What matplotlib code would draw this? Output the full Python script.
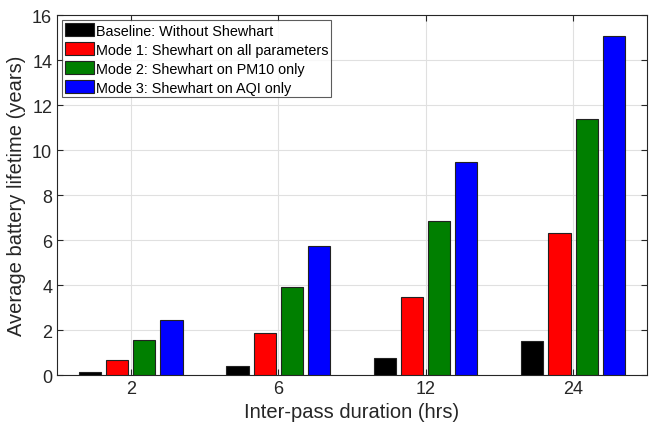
import numpy as np
import matplotlib.pyplot as plt

plt.rcParams['font.family'] = ['Liberation Sans', 'DejaVu Sans']

durations = ['2', '6', '12', '24']
baseline = [0.14, 0.38, 0.77, 1.50]
mode1 = [0.68, 1.87, 3.46, 6.30]
mode2 = [1.54, 3.90, 6.86, 11.40]
mode3 = [2.46, 5.72, 9.46, 15.05]
labels = ['Baseline: Without Shewhart', 'Mode 1: Shewhart on all parameters',
          'Mode 2: Shewhart on PM10 only', 'Mode 3: Shewhart on AQI only']
colors = ['#000000', '#ff0000', '#007f00', '#0000ff']

fig = plt.figure(figsize=(6.51, 4.31), dpi=100)
ax = fig.add_axes([0.0876, 0.1276, 0.906, 0.835])

x = np.arange(1, len(durations) + 1)
width = 0.15
offsets = [-0.276, -0.092, 0.092, 0.276]
for vals, off, c, lab in zip([baseline, mode1, mode2, mode3], offsets, colors, labels):
    ax.bar(x + off, vals, width, color=c, edgecolor='#222222', linewidth=0.8, label=lab, zorder=3)

ax.set_xlim(0.5, 4.5)
ax.set_ylim(0, 16)
ax.set_xticks(x)
ax.set_xticklabels(durations)
ax.set_yticks(range(0, 17, 2))
ax.tick_params(direction='in', labelsize=13, colors='#262626', top=True, right=True, length=4)
ax.grid(True, color='#e0e0e0', linewidth=0.8, zorder=0)
for s in ax.spines.values():
    s.set_color('#262626')
    s.set_linewidth(0.8)

ax.set_xlabel('Inter-pass duration (hrs)', fontsize=14.5, color='#262626')
ax.set_ylabel('Average battery lifetime (years)', fontsize=14.5, color='#262626')

leg = ax.legend(loc='upper left', fontsize=10.4, frameon=True, fancybox=False,
                edgecolor='#333333', borderpad=0.2, labelspacing=0.3,
                handlelength=2.0, handleheight=1.05, handletextpad=0.15,
                borderaxespad=0.35)
leg.get_frame().set_linewidth(0.8)

plt.savefig('out.png', dpi=100)
